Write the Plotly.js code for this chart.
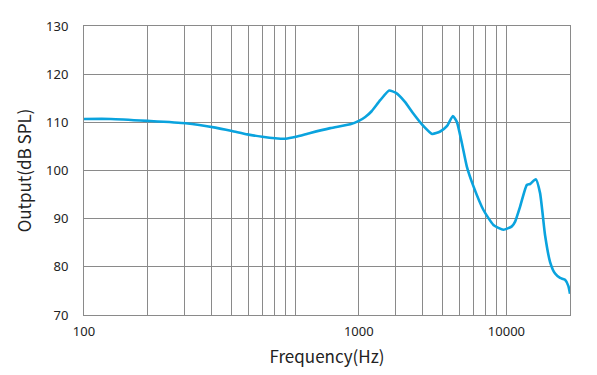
<!DOCTYPE html>
<html>
<head>
<meta charset="utf-8">
<script src="https://cdn.plot.ly/plotly-3.0.1.min.js"></script>
<style>html,body{margin:0;padding:0;background:#fff;}#chart{width:597px;height:375px;}</style>
</head>
<body>
<div id="chart"></div>
<script>
// Frequency response (Hz, dB SPL)
const freqHz = [100, 134, 200, 303, 419, 502, 593, 699, 803, 901, 1009, 1179, 1466, 1823, 2000, 2146, 2300, 2527, 2786, 3000, 3300, 3600, 3979, 4451, 4858, 5224, 5578, 5826, 6152, 6496, 6983, 7785, 8680, 9679, 10605, 10996, 11609, 12488, 12946, 13777, 14433, 15245, 16096, 16998, 17947, 18950, 19653, 20000];
const outputDb = [110.7, 110.7, 110.3, 109.8, 108.9, 108.2, 107.5, 107.0, 106.7, 106.6, 107.0, 107.8, 108.8, 109.6, 110.3, 111.1, 112.3, 114.6, 116.6, 116.1, 114.3, 112.0, 109.6, 107.6, 108.1, 109.2, 111.3, 110.1, 105.7, 100.8, 96.7, 91.8, 88.7, 87.7, 88.4, 89.4, 92.5, 97.0, 97.2, 98.2, 95.3, 86.5, 81.0, 78.6, 77.7, 77.3, 76.0, 74.4];

// Tick labels as printed on the reference (the "1000" label sits under the 2000 Hz gridline)
const xTickLabels = ['100', '1000', '10000'];
const xTickLabelAt = [100, 2000, 10000];

const gridVals = [];
const gridText = [];
for (let d = 100; d <= 10000; d *= 10) {
  for (let m = 1; m <= 9; m++) {
    const v = d * m;
    if (v > 20000) break;
    gridVals.push(v);
    const i = xTickLabelAt.indexOf(v);
    gridText.push(i >= 0 ? xTickLabels[i] : '');
  }
}
gridVals.push(20000); gridText.push('');

const gridColor = '#8a8a8a';
const font = {family: 'Noto Sans, sans-serif', size: 13, color: '#222'};

const trace = {
  x: freqHz, y: outputDb, type: 'scatter', mode: 'lines',
  line: {color: '#0aa3de', width: 2.6, shape: 'spline', smoothing: 0.5},
  hoverinfo: 'skip'
};

const layout = {
  width: 597, height: 375,
  margin: {l: 84, r: 27, t: 26, b: 60},
  paper_bgcolor: '#fff', plot_bgcolor: '#fff',
  showlegend: false,
  font: font,
  xaxis: {
    type: 'log', range: [2, Math.log10(20000)],
    tickmode: 'array', tickvals: gridVals, ticktext: gridText,
    showgrid: true, gridcolor: gridColor, gridwidth: 1,
    showline: true, mirror: true, linecolor: gridColor, linewidth: 1,
    ticks: '', zeroline: false, ticklabelstandoff: 4,
    tickfont: font,
    title: {text: 'Frequency(Hz)', font: {family: 'Noto Sans CJK SC, Noto Sans, sans-serif', size: 17, color: '#222'}, standoff: 12}
  },
  yaxis: {
    range: [70, 130], dtick: 10, tick0: 70,
    showgrid: true, gridcolor: gridColor, gridwidth: 1,
    showline: true, mirror: true, linecolor: gridColor, linewidth: 1,
    ticks: '', zeroline: false, ticklabelstandoff: 12,
    tickfont: font,
    title: {text: 'Output(dB SPL)', font: {family: 'Noto Sans CJK SC, Noto Sans, sans-serif', size: 17, color: '#222'}, standoff: 10}
  }
};

Plotly.newPlot('chart', [trace], layout, {staticPlot: true, displayModeBar: false});
</script>
</body>
</html>
